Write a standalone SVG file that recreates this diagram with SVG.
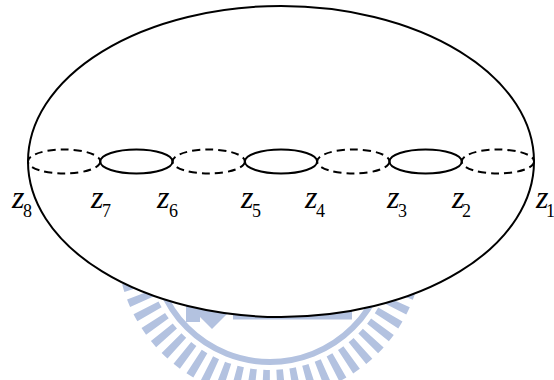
<svg xmlns="http://www.w3.org/2000/svg" width="554" height="380" viewBox="0 0 554 380">
  <style>
    .wm { fill: #b3c2e0; }
    .wm-ring { fill: none; stroke: #b3c2e0; }
    .surface { fill: #ffffff; stroke: #000; stroke-width: 2; }
    .cycle { fill: none; stroke: #000; stroke-width: 2; }
    .dashed { stroke-dasharray: 8 5; }
    .lbl { font-family: "Liberation Serif", "Times New Roman", serif; font-style: italic; font-size: 32px; fill: #000; }
    .sub { font-style: normal; font-size: 18px; }
  </style>

  <!-- background emblem, partly hidden behind the surface -->
  <g id="emblem">
    <circle class="wm-ring" cx="270" cy="245" r="139" stroke-width="28" stroke-dasharray="7.3 7.26"/>
    <circle class="wm-ring" cx="270" cy="245" r="117" stroke-width="6"/>
    <rect class="wm" x="233" y="296" width="119" height="23.5"/>
    <rect class="wm" x="186" y="296" width="14" height="26"/>
    <polygon class="wm" points="195,312 212,329 230,311 213,294"/>
  </g>

  <!-- closed surface -->
  <g id="surface">
    <ellipse class="surface" cx="281" cy="161.5" rx="253" ry="155.5"/>
  </g>

  <!-- chain of cycles along the equator -->
  <g id="cycles">
    <ellipse id="c1" class="cycle dashed" cx="64.1" cy="161.5" rx="36.15" ry="12"/>
    <ellipse id="c2" class="cycle" cx="136.4" cy="161.5" rx="36.15" ry="12"/>
    <ellipse id="c3" class="cycle dashed" cx="208.7" cy="161.5" rx="36.15" ry="12"/>
    <ellipse id="c4" class="cycle" cx="281" cy="161.5" rx="36.15" ry="12"/>
    <ellipse id="c5" class="cycle dashed" cx="353.3" cy="161.5" rx="36.15" ry="12"/>
    <ellipse id="c6" class="cycle" cx="425.6" cy="161.5" rx="36.15" ry="12"/>
    <ellipse id="c7" class="cycle dashed" cx="497.9" cy="161.5" rx="36.15" ry="12"/>
  </g>

  <!-- point labels -->
  <g id="labels">
    <text class="lbl" x="12" y="208">z<tspan class="sub" x="23" y="217">8</tspan></text>
    <text class="lbl" x="91" y="208">z<tspan class="sub" x="102" y="217">7</tspan></text>
    <text class="lbl" x="157" y="208">z<tspan class="sub" x="169" y="217">6</tspan></text>
    <text class="lbl" x="241" y="208">z<tspan class="sub" x="252" y="217">5</tspan></text>
    <text class="lbl" x="305" y="208">z<tspan class="sub" x="316" y="217">4</tspan></text>
    <text class="lbl" x="387" y="208">z<tspan class="sub" x="398" y="217">3</tspan></text>
    <text class="lbl" x="452" y="208">z<tspan class="sub" x="462" y="217">2</tspan></text>
    <text class="lbl" x="536" y="208">z<tspan class="sub" x="546" y="217">1</tspan></text>
  </g>
</svg>
